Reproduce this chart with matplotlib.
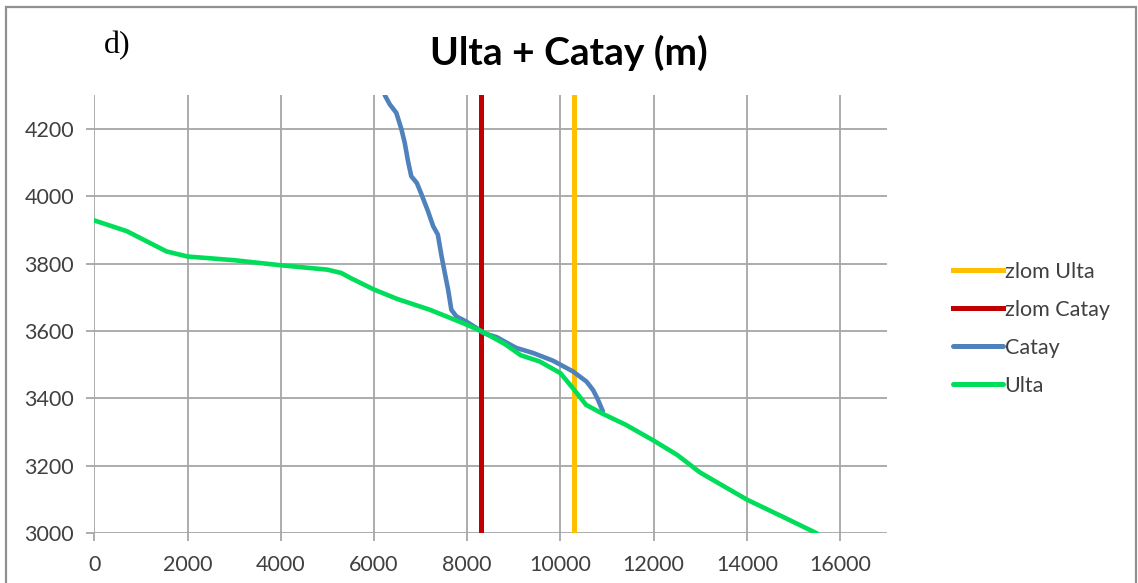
import matplotlib
matplotlib.use("Agg")
import matplotlib.pyplot as plt
from matplotlib.patches import Rectangle

# Ulta profile: horizontal distance (m) vs elevation (m)
ulta_x = [0, 700, 1550, 2000, 3000, 4000, 5000, 5300, 5500, 6000, 6500, 7200,
          7900, 8300, 8800, 9150, 9550, 10000, 10270, 10550, 10900, 11400,
          12000, 12500, 13000, 14000, 14770, 15500]
ulta_y = [3928, 3896, 3836, 3821, 3810, 3795, 3782, 3772, 3757, 3723, 3695, 3663,
          3624, 3600, 3562, 3528, 3510, 3475, 3430, 3381, 3355, 3322,
          3275, 3233, 3180, 3100, 3049, 3000]

# Catay profile
catay_x = [6230, 6340, 6480, 6590, 6660, 6730, 6800, 6920, 7020, 7160, 7270, 7370,
           7450, 7520, 7590, 7660, 7770, 7980, 8200, 8340, 8630, 8800, 9050,
           9410, 9840, 10270, 10560, 10700, 10800, 10910]
catay_y = [4300, 4272, 4247, 4198, 4158, 4104, 4059, 4039, 4005, 3955, 3911, 3886,
           3822, 3772, 3723, 3663, 3643, 3628, 3609, 3594, 3582, 3569, 3550,
           3535, 3512, 3480, 3450, 3425, 3398, 3362]

# Break-point positions
zlom_ulta = 10300
zlom_catay = 8300

x_ticks = list(range(0, 16001, 2000))
y_ticks = list(range(3000, 4201, 200))

sans = "Lato"
tick_color = "#404040"
grid_color = "#a6a6a6"

fig = plt.figure(figsize=(11.38, 5.83), dpi=100)
ax = fig.add_axes([94.3 / 1138, 1 - 533.3 / 583, (886.7 - 94.3) / 1138, (533.3 - 95) / 583])

lw = 3.3
ax.plot([zlom_ulta, zlom_ulta], [3000, 4300], color="#FFC000", lw=3.6, label="zlom Ulta")
ax.plot([zlom_catay, zlom_catay], [3000, 4300], color="#C00000", lw=3.6, label="zlom Catay")
ax.plot(catay_x, catay_y, color="#4F81BD", lw=lw, solid_joinstyle="round",
        solid_capstyle="round", label="Catay")
ax.plot(ulta_x, ulta_y, color="#00DD5A", lw=lw, solid_joinstyle="round",
        solid_capstyle="round", label="Ulta")

ax.set_xlim(0, 17000)
ax.set_ylim(3000, 4300)
ax.set_xticks(x_ticks)
ax.set_yticks(y_ticks)
ax.grid(True, color=grid_color, lw=1.3)
ax.set_axisbelow(True)
for s in ax.spines.values():
    s.set_visible(False)
ax.tick_params(axis="both", direction="out", length=5.5, width=1.3, color=grid_color,
               labelcolor=tick_color, labelsize=15.5)
ax.tick_params(axis="y", pad=9)
ax.tick_params(axis="x", pad=10)
for lab in ax.get_xticklabels() + ax.get_yticklabels():
    lab.set_fontfamily(sans)

fig.text(0.5, 1 - 53 / 583, "Ulta + Catay (m)", ha="center", va="center",
         fontsize=28, fontweight="bold", family=sans, color="#000000")
fig.text(104 / 1138, 1 - 46 / 583, "d)", ha="left", va="center",
         fontsize=23, family="Liberation Serif", color="#000000")

leg = fig.legend(loc="center left", bbox_to_anchor=(953 / 1138, 1 - 328.7 / 583),
                 frameon=False, prop={"family": sans, "size": 15.5},
                 handlelength=2.3, handletextpad=0.1, labelspacing=0.84,
                 borderpad=0, borderaxespad=0)
for t in leg.get_texts():
    t.set_color(tick_color)
for h in leg.get_lines():
    h.set_linewidth(3.6)

# Page frame around the figure
fig.patches.append(Rectangle((6 / 1138, -0.05), (1136 - 6) / 1138, 1.05 - 7 / 583,
                             transform=fig.transFigure, fill=False,
                             edgecolor="#909090", lw=1.6, clip_on=False))

fig.savefig("out.png", dpi=100)
